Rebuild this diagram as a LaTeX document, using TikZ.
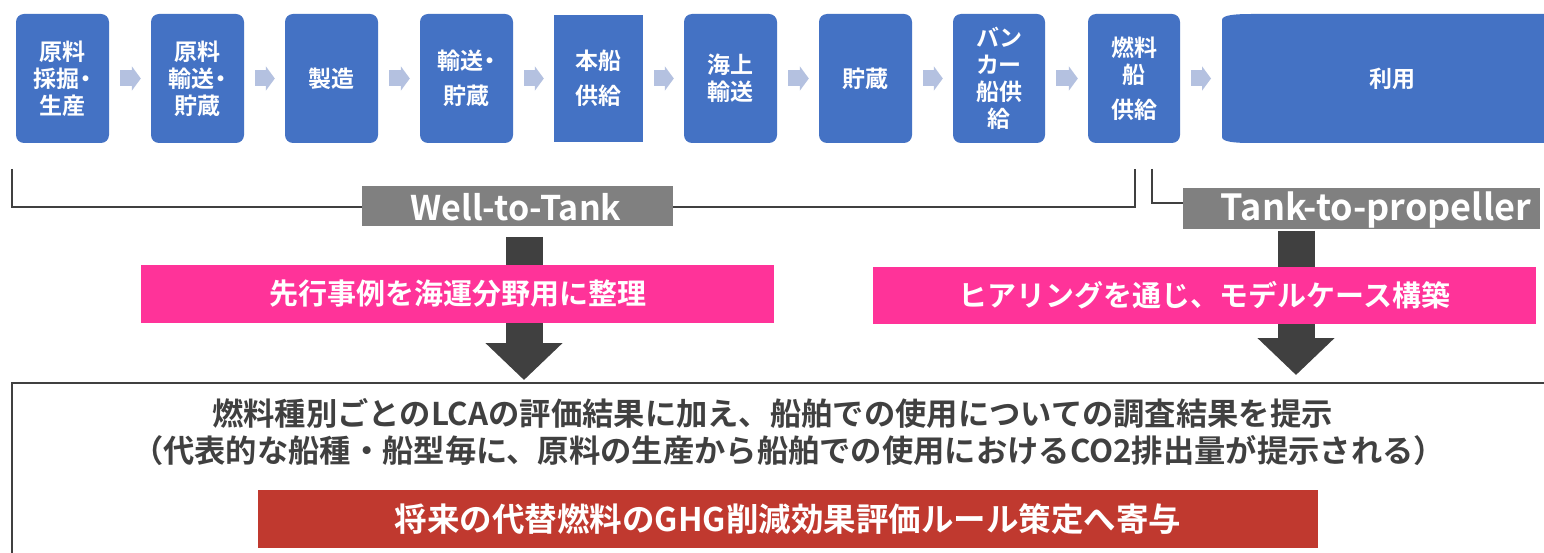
\documentclass[tikz,border=0pt]{standalone}
\usepackage{fontspec}
\setmainfont{Noto Sans CJK JP}[BoldFont={Noto Sans CJK JP Bold}]
\newfontfamily\jpm{Noto Sans CJK JP Medium}
\newfontfamily\jpb{Noto Sans CJK JP Bold}
\newfontfamily\jpbp{Noto Sans CJK JP Bold}[RawFeature=+palt]
\usetikzlibrary{arrows.meta}
\definecolor{boxblue}{HTML}{4472C4}
\definecolor{arrowlight}{RGB}{180,193,224}
\definecolor{labgray}{HTML}{808080}
\definecolor{darkarrow}{HTML}{404040}
\definecolor{hotpink}{HTML}{FF3399}
\definecolor{redbox}{HTML}{C0392F}
\definecolor{textgray}{HTML}{404040}
\begin{document}
\begin{tikzpicture}[x=1pt,y=-1pt,
  stagebox/.style={fill=boxblue, rounded corners=8pt, minimum width=93pt, minimum height=129pt, inner sep=0pt, text=white, align=center, font=\jpbp\fontsize{23}{27}\selectfont},
  flowarrow/.style={draw=arrowlight, line width=16pt, -{Triangle[length=9pt,width=24pt]}},
  bigarrow/.style={draw=darkarrow, line width=37pt, -{Triangle[length=37pt,width=75pt]}},
  bracketline/.style={draw=darkarrow, line width=1.5pt},
  graylabel/.style={fill=labgray, inner sep=0pt},
  labeltext/.style={text=white, inner sep=0pt, font=\jpb\fontsize{34}{34}\selectfont},
  pinkbox/.style={fill=hotpink, text=white, inner sep=0pt, minimum height=57pt, font=\jpb\fontsize{29}{29}\selectfont},
  resulttext/.style={text=textgray, inner sep=0pt, font=\bfseries\fontsize{31.3}{31.3}\selectfont},
  redlabel/.style={fill=redbox, text=white, inner sep=0pt, minimum width=1060pt, minimum height=58pt, font=\bfseries\fontsize{32.5}{32.5}\selectfont}
]
\clip (0,0) rectangle (1544,553);
\fill[white] (0,0) rectangle (1544,553);

% stage boxes
\node[stagebox] (b1) at (62.5,78.5) {原料\\採掘・\\生産};
\node[stagebox] (b2) at (197.5,78.5) {原料\\輸送・\\貯蔵};
\node[stagebox] (b3) at (331.5,78.5) {製造};
\node[stagebox] (b4) at (466.5,78.5) {輸送・\\[8pt]貯蔵};
\node[stagebox, rounded corners=0pt, minimum width=89pt, minimum height=127pt] (b5) at (598.5,78.5) {本船\\[8pt]供給};
\node[stagebox] (b6) at (730.5,78.5) {海上\\輸送};
\node[stagebox] (b7) at (865.5,78.5) {貯蔵};
\node[stagebox, minimum width=92pt] (b8) at (999,78.5) {バン\\カー\\船供\\給};
\node[stagebox, minimum width=92pt] (b9) at (1134,78.5) {燃料\\船\\[8pt]供給};
\fill[boxblue] (1222,20) .. controls (1222,15) and (1235,14) .. (1252,14) -- (1562,14) -- (1562,143) -- (1252,143) .. controls (1235,143) and (1222,142) .. (1222,137) -- cycle;
\node[stagebox, fill=none, minimum width=340pt] (b10) at (1392,78.5) {利用};

% flow arrows
\foreach \a/\b in {b1/b2,b2/b3,b3/b4,b4/b5,b5/b6,b6/b7,b7/b8,b8/b9}
  \draw[flowarrow] ([xshift=11pt]\a.east) -- ([xshift=-10pt]\b.west);
\draw[flowarrow] ([xshift=11pt]b9.east) -- (1211,78.5);

% brackets
\coordinate (wl1) at (12,169);
\coordinate (wl2) at (1135,169);
\draw[bracketline] (wl1) -- (12,207) -- (1135,207) -- (wl2);
\coordinate (tp1) at (1152,169);
\draw[bracketline] (tp1) -- (1152,203) -- (1190,203);

\node[graylabel, minimum width=311pt, minimum height=40pt] (wtt) at (517.5,206) {};
\node[labeltext] (wttT) at (516,207) {Well-to-Tank};
\node[graylabel, minimum width=357pt, minimum height=41pt] (ttp) at (1361.5,209) {};
\node[labeltext, font=\jpb\fontsize{36}{36}\selectfont] (ttpT) at (1376,210) {Tank-to-propeller};

% big arrows
\coordinate (tipL) at (524,380);
\coordinate (tipR) at (1296,375);
\draw[bigarrow] (524,237) -- (tipL);
\draw[bigarrow] (1296,231) -- (tipR);

\node[pinkbox, minimum width=633pt] (pL) at (457.5,294) {先行事例を海運分野用に整理};
\node[pinkbox, minimum width=663pt] (pR) at (1204.5,295.5) {ヒアリングを通じ、モデルケース構築};

% result box
\draw[darkarrow, line width=2.5pt] (12,570) -- (12,383) -- (1570,383);
\node[resulttext] (r1) at (772.5,413) {燃料種別ごとのLCAの評価結果に加え、船舶での使用についての調査結果を提示};
\node[resulttext] (r2) at (788.5,451) {（代表的な船種・船型毎に、原料の生産から船舶での使用におけるCO2排出量が提示される）};
\node[redlabel] (goal) at (788,519) {将来の代替燃料のGHG削減効果評価ルール策定へ寄与};
\end{tikzpicture}
\end{document}
